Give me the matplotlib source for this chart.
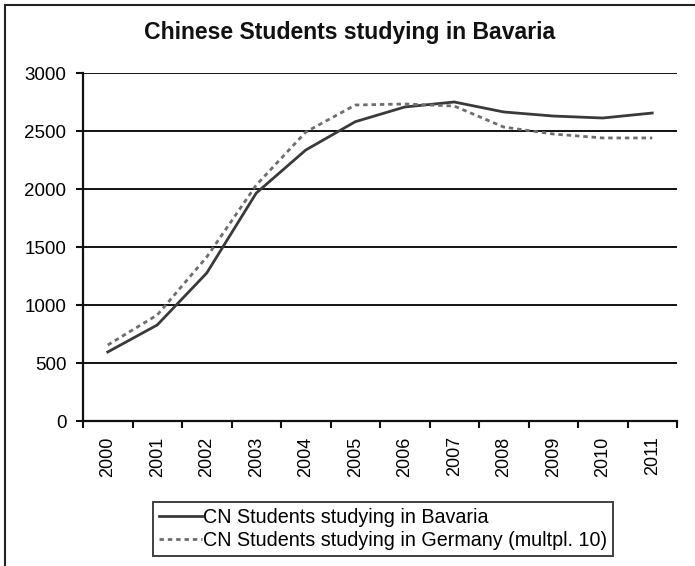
import matplotlib
matplotlib.use("Agg")
import matplotlib.pyplot as plt
import numpy as np
from matplotlib.patches import Rectangle

plt.rcParams['font.family'] = ['Liberation Sans', 'DejaVu Sans']

years = ['2000', '2001', '2002', '2003', '2004', '2005', '2006', '2007', '2008', '2009', '2010', '2011']
bavaria = [595, 828, 1276, 1965, 2336, 2580, 2707, 2750, 2664, 2629, 2612, 2655]
germany = [655, 914, 1414, 2034, 2491, 2724, 2733, 2715, 2534, 2474, 2440, 2440]
yticks = [0, 500, 1000, 1500, 2000, 2500, 3000]
title = 'Chinese Students studying in Bavaria'
label_bav = 'CN Students studying in Bavaria'
label_ger = 'CN Students studying in Germany (multpl. 10)'

W, H = 695, 566
fig = plt.figure(figsize=(W / 100, H / 100), dpi=100)
fig.patch.set_facecolor('white')

# outer chart border (only left/top visible)
fig.patches.append(Rectangle((5 / W, -0.05), 1.2, 1 - 5 / H + 0.05, transform=fig.transFigure,
                             fill=False, edgecolor='#222222', linewidth=1.5))

ax = fig.add_axes([83 / W, 1 - 421 / H, (677 - 83) / W, (421 - 73) / H])
x = np.arange(len(years))
ax.plot(x, bavaria, color='#3a3a3a', linewidth=2.0, label=label_bav)
ax.plot(x, germany, color='#6e6e6e', linewidth=2.0, linestyle=(0, (1.6, 1.4)), label=label_ger)

ax.set_xlim(-0.5, len(years) - 0.5)
ax.set_ylim(0, 3000)
ax.set_yticks(yticks)
ax.set_yticklabels([str(v) for v in yticks], fontsize=13.5)
ax.yaxis.grid(True, color='#111111', linewidth=1.4)
ax.set_axisbelow(True)

ax.set_xticks(np.arange(-0.5, len(years)), labels=[''] * (len(years) + 1))
ax.set_xticks(x, labels=years, minor=True)
ax.tick_params(axis='x', which='major', length=5, width=1.5, direction='out', color='#111111')
ax.tick_params(axis='x', which='minor', length=0, labelsize=13, labelrotation=90, pad=11)
ax.tick_params(axis='y', length=5, width=1.5, direction='out', color='#111111', pad=7)
for lab in ax.get_xticklabels(minor=True):
    lab.set_verticalalignment('top')

for s in ['top', 'right']:
    ax.spines[s].set_visible(False)
for s in ['left', 'bottom']:
    ax.spines[s].set_linewidth(1.6)
    ax.spines[s].set_color('#111111')

fig.text(350 / W, 1 - 32 / H, title, ha='center', va='center', fontsize=16.6, fontweight='bold', color='#111111')

leg = fig.legend(loc='upper left', bbox_to_anchor=(153 / W, 1 - 502 / H), fontsize=14.2,
                 frameon=True, fancybox=False, handlelength=2.2, handletextpad=0.05,
                 borderpad=0.3, labelspacing=0.2, borderaxespad=0)
leg.get_frame().set_edgecolor('#111111')
leg.get_frame().set_linewidth(1.4)

fig.savefig('out.png', dpi=100)
